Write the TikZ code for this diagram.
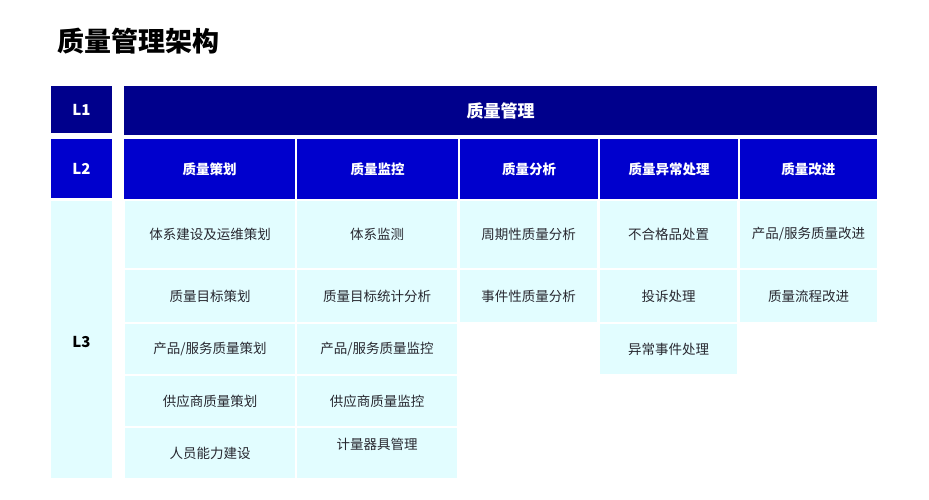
\documentclass[tikz,border=0pt]{standalone}
\usepackage{fontspec}
\setmainfont{Noto Sans CJK SC}
\definecolor{navy}{RGB}{0,0,140}
\definecolor{mblue}{RGB}{0,0,205}
\definecolor{lcyan}{RGB}{226,253,255}
\definecolor{ltxt}{RGB}{40,40,48}
\tikzset{
  box/.style={inner sep=0pt, outer sep=0pt, draw=none, anchor=center},
  lvone/.style={box, fill=navy, text=white, font=\bfseries\fontsize{15}{15}\selectfont},
  lvtwo/.style={box, fill=mblue, text=white, font=\bfseries\fontsize{13.5}{14}\selectfont},
  lvthree/.style={box, fill=lcyan, text=ltxt, font=\fontsize{13.5}{14}\selectfont},
  lvlab/.style={box, text=white, font=\bfseries\fontsize{15}{15}\selectfont},
}
% style, name, x1, y1, x2, y2, text
\newcommand\cellbox[7]{%
  \pgfmathsetmacro\mycx{(#3+#5)/2}%
  \pgfmathsetmacro\mycy{(#4+#6)/2}%
  \pgfmathsetmacro\mycw{#5-#3}%
  \pgfmathsetmacro\mych{#6-#4}%
  \node[#1, minimum width=\mycw pt, minimum height=\mych pt] (#2) at (\mycx,\mycy) {#7};}
\begin{document}
\begin{tikzpicture}[x=1pt,y=-1pt]
\useasboundingbox (0,0) rectangle (929,500);
% title
\node[anchor=west, inner sep=0pt, font=\bfseries\fontsize{27}{27}\selectfont] (title) at (57,41) {质量管理架构};
% level labels
\cellbox{lvone}{L1}{51}{86}{112}{133}{L1}
\cellbox{lvtwo,font=\bfseries\fontsize{15}{15}\selectfont}{L2}{51}{139}{112}{198}{L2}
\cellbox{lvthree}{L3box}{51}{201}{112}{478}{}
\node[lvlab, text=black] (L3) at (81.5,342) {L3};
% L1 header
\cellbox{lvone,font=\bfseries\fontsize{17}{17}\selectfont}{h1}{124}{86}{877}{135}{质量管理}
% L2 headers
\cellbox{lvtwo}{c1}{124}{139}{295.3}{199}{质量策划}
\cellbox{lvtwo}{c2}{296.7}{139}{458.3}{199}{质量监控}
\cellbox{lvtwo}{c3}{459.7}{139}{598.3}{199}{质量分析}
\cellbox{lvtwo}{c4}{599.7}{139}{738.3}{199}{质量异常处理}
\cellbox{lvtwo}{c5}{739.7}{139}{877}{199}{质量改进}
% column 1
\cellbox{lvthree}{a1}{125}{201}{295}{268}{体系建设及运维策划}
\cellbox{lvthree}{a2}{125}{270}{295}{322}{质量目标策划}
\cellbox{lvthree}{a3}{125}{324}{295}{374}{产品/服务质量策划}
\cellbox{lvthree}{a4}{125}{376}{295}{426}{供应商质量策划}
\cellbox{lvthree}{a5}{125}{428}{295}{478}{人员能力建设}
% column 2
\cellbox{lvthree}{b1}{297}{201}{457}{268}{体系监测}
\cellbox{lvthree}{b2}{297}{270}{457}{322}{质量目标统计分析}
\cellbox{lvthree}{b3}{297}{324}{457}{374}{产品/服务质量监控}
\cellbox{lvthree}{b4}{297}{376}{457}{426}{供应商质量监控}
\cellbox{lvthree}{b5}{297}{428}{457}{478}{}
\node[box, text=ltxt, font=\fontsize{13.5}{14}\selectfont] (b5t) at (377,444) {计量器具管理};
% column 3
\cellbox{lvthree}{d1}{460}{201}{597}{268}{周期性质量分析}
\cellbox{lvthree}{d2}{460}{270}{597}{322}{事件性质量分析}
% column 4
\cellbox{lvthree}{e1}{600}{201}{737}{268}{不合格品处置}
\cellbox{lvthree}{e2}{600}{270}{737}{322}{投诉处理}
\cellbox{lvthree}{e3}{600}{324}{737}{374}{异常事件处理}
% column 5
\cellbox{lvthree}{f1}{740}{201}{877}{268}{产品/服务质量改进}
\cellbox{lvthree}{f2}{740}{270}{877}{322}{质量流程改进}
\end{tikzpicture}
\end{document}
